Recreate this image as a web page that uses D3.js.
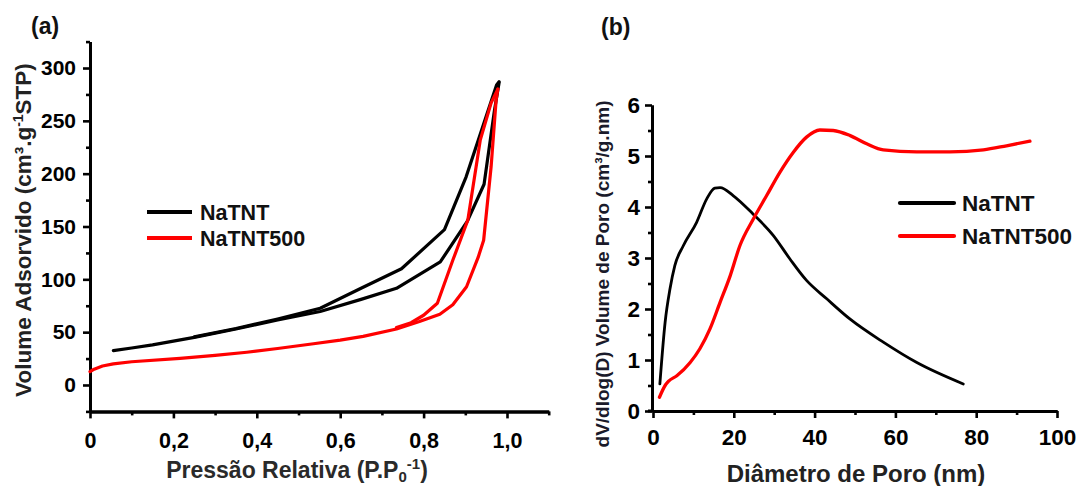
<!DOCTYPE html>
<html>
<head>
<meta charset="utf-8">
<script src="https://cdn.jsdelivr.net/npm/d3@7"></script>
<style>
  html, body { margin: 0; padding: 0; background: #fff; }
  svg { display: block; font-family: "Liberation Sans", Arial, sans-serif; font-weight: bold; }
</style>
</head>
<body>
<svg id="chart" width="1080" height="486"></svg>
<script>
// ---------- Panel (a): N2 isotherms ----------
const seriesNamesA = ["NaTNT", "NaTNT500"];
const xTicksA = [0, 0.2, 0.4, 0.6, 0.8, 1.0];
const xTickLabelsA = ["0", "0,2", "0,4", "0,6", "0,8", "1,0"];
const xMinorA = [0.1, 0.3, 0.5, 0.7, 0.9, 1.1];
const yTicksA = [0, 50, 100, 150, 200, 250, 300];
const yMinorA = [-25, 25, 75, 125, 175, 225, 275, 325];

// NaTNT adsorption (lower) and desorption (upper) branches: [P/P0, volume]
const natntAds = [[0.056,32.5],[0.10,35],[0.15,38],[0.25,45],[0.35,53],[0.45,61.5],[0.552,69.5],[0.65,81],[0.735,91.5],[0.84,116.5],[0.905,155],[0.945,190],[0.97,260],[0.981,286]];
const natntDes = [[0.981,287],[0.975,284],[0.902,197],[0.85,147],[0.747,110],[0.65,91.5],[0.552,72.6],[0.45,62.5],[0.35,53.5],[0.25,45.5]];
// NaTNT500 adsorption and desorption branches
const natnt500Ads = [[0,12.6],[0.01,15],[0.03,18],[0.056,20],[0.1,22],[0.216,25.2],[0.3,28],[0.376,31],[0.45,34.5],[0.536,39],[0.6,42.5],[0.655,46],[0.735,53],[0.79,60],[0.839,67],[0.87,76],[0.903,93],[0.931,121],[0.944,137],[0.962,207],[0.974,270],[0.978,280]];
const natnt500Des = [[0.978,280],[0.962,267],[0.936,232],[0.906,156],[0.87,118],[0.833,77.4],[0.80,66],[0.77,59],[0.735,54.5]];

// ---------- Panel (b): pore size distribution ----------
const seriesNamesB = ["NaTNT", "NaTNT500"];
const xTicksB = [0, 20, 40, 60, 80, 100];
const xMinorB = [10, 30, 50, 70, 90];
const yTicksB = [0, 1, 2, 3, 4, 5, 6];
const yMinorB = [0.5, 1.5, 2.5, 3.5, 4.5, 5.5];

const natntPSD = [[1.7,0.53],[3.0,1.74],[4.2,2.39],[5.4,2.85],[7.5,3.24],[10.8,3.70],[13.3,4.16],[15.3,4.37],[16.6,4.38],[19.9,4.22],[24.8,3.86],[29.8,3.44],[33.9,2.98],[38,2.56],[43,2.2],[48.8,1.80],[57,1.35],[65.3,0.95],[76.8,0.53]];
const natnt500PSD = [[1.6,0.27],[3.0,0.50],[3.8,0.58],[5.9,0.69],[9.2,0.95],[11.6,1.22],[14.1,1.61],[16.6,2.13],[19.1,2.65],[21.5,3.24],[24.8,3.76],[28.1,4.22],[31.4,4.68],[34.7,5.07],[38,5.37],[41.3,5.51],[44.6,5.50],[48.8,5.40],[52.9,5.24],[57,5.12],[65.3,5.08],[73.5,5.08],[81.8,5.12],[87.5,5.20],[93.3,5.29]];

const colors = ["#000000", "#ff0000"];

const svg = d3.select("#chart");

function styleAxis(g, fontSize) {
  g.select(".domain").attr("stroke", "#000").attr("stroke-width", 3);
  g.selectAll(".tick line").attr("stroke", "#000").attr("stroke-width", 2.6);
  g.selectAll(".tick text").attr("fill", "#000").style("font-size", fontSize + "px").style("font-weight", "bold")
    .style("font-family", '"Liberation Sans", Arial, sans-serif');
}

// ===== Panel (a) =====
const xA = d3.scaleLinear().domain([0, 1.1]).range([90, 548.7]);
const yA = d3.scaleLinear().domain([-25, 325]).range([411.4, 41.6]);

const gA = svg.append("g");
gA.append("g").attr("transform", `translate(0,${yA(-25)})`)
  .call(d3.axisBottom(xA).tickValues(xMinorA).tickSize(4).tickSizeOuter(0).tickFormat(""))
  .call(g => styleAxis(g, 21));
gA.append("g").attr("transform", `translate(0,${yA(-25)})`)
  .call(d3.axisBottom(xA).tickValues(xTicksA).tickSize(7).tickPadding(14).tickSizeOuter(0)
    .tickFormat((d, i) => xTickLabelsA[i]))
  .call(g => styleAxis(g, 21.5));
gA.append("g").attr("transform", `translate(${xA(0)},0)`)
  .call(d3.axisLeft(yA).tickValues(yMinorA).tickSize(4).tickSizeOuter(0).tickFormat(""))
  .call(g => styleAxis(g, 21));
gA.append("g").attr("transform", `translate(${xA(0)},0)`)
  .call(d3.axisLeft(yA).tickValues(yTicksA).tickSize(7).tickPadding(7).tickSizeOuter(0))
  .call(g => styleAxis(g, 21));

const lineA = d3.line().x(d => xA(d[0])).y(d => yA(d[1])).curve(d3.curveLinear);
[[natntAds, 0], [natntDes, 0], [natnt500Ads, 1], [natnt500Des, 1]].forEach(([data, ci]) => {
  gA.append("path").datum(data).attr("d", lineA)
    .attr("fill", "none").attr("stroke", colors[ci]).attr("stroke-width", 3.2)
    .attr("stroke-linejoin", "round").attr("stroke-linecap", "round");
});

// legend (a)
seriesNamesA.forEach((name, i) => {
  const y = 212 + i * 26;
  gA.append("line").attr("x1", 147).attr("x2", 192).attr("y1", y).attr("y2", y)
    .attr("stroke", colors[i]).attr("stroke-width", 4.2);
  gA.append("text").attr("x", 200).attr("y", y + 8).text(name)
    .style("font-size", "21.5px").attr("fill", "#111");
});

// titles (a)
gA.append("text").attr("x", 31).attr("y", 34).text("(a)").style("font-size", "23px").attr("fill", "#111");
const xlabA = gA.append("text").attr("x", 297).attr("y", 478).attr("text-anchor", "middle")
  .style("font-size", "23px").attr("fill", "#2a2a2a");
xlabA.append("tspan").text("Pressão Relativa (P.P");
xlabA.append("tspan").text("0").style("font-size", "15px").attr("dy", 4);
xlabA.append("tspan").text("-1").style("font-size", "15px").attr("dy", -13);
xlabA.append("tspan").text(")").attr("dy", 9);

const ylabA = gA.append("text").attr("transform", "translate(31,230) rotate(-90)").attr("text-anchor", "middle")
  .style("font-size", "22.5px").attr("fill", "#222");
ylabA.append("tspan").text("Volume Adsorvido (cm³.g");
ylabA.append("tspan").text("-1").style("font-size", "14px").attr("dy", -8);
ylabA.append("tspan").text("STP)").attr("dy", 8);

// ===== Panel (b) =====
const xB = d3.scaleLinear().domain([0, 100]).range([653, 1057]);
const yB = d3.scaleLinear().domain([0, 6]).range([411, 105]);

const gB = svg.append("g");
gB.append("line").attr("x1", 648).attr("x2", 653).attr("y1", yB(0)).attr("y2", yB(0))
  .attr("stroke", "#000").attr("stroke-width", 3);
gB.append("g").attr("transform", `translate(0,${yB(0)})`)
  .call(d3.axisBottom(xB).tickValues(xMinorB).tickSize(4).tickSizeOuter(0).tickFormat(""))
  .call(g => styleAxis(g, 22));
gB.append("g").attr("transform", `translate(0,${yB(0)})`)
  .call(d3.axisBottom(xB).tickValues(xTicksB).tickSize(7).tickPadding(11).tickSizeOuter(0).tickFormat(d3.format("d")))
  .call(g => styleAxis(g, 22.5));
gB.append("g").attr("transform", `translate(${xB(0) - 1},0)`)
  .call(d3.axisLeft(yB).tickValues(yMinorB).tickSize(4).tickSizeOuter(0).tickFormat(""))
  .call(g => styleAxis(g, 22));
gB.append("g").attr("transform", `translate(${xB(0) - 1},0)`)
  .call(d3.axisLeft(yB).tickValues(yTicksB).tickSize(7).tickPadding(5).tickSizeOuter(0).tickFormat(d3.format("d")))
  .call(g => styleAxis(g, 22.5));

const lineB = d3.line().x(d => xB(d[0])).y(d => yB(d[1])).curve(d3.curveMonotoneX);
gB.append("path").datum(natntPSD).attr("d", lineB).attr("fill", "none")
  .attr("stroke", colors[0]).attr("stroke-width", 2.8).attr("stroke-linecap", "round");
gB.append("path").datum(natnt500PSD).attr("d", lineB).attr("fill", "none")
  .attr("stroke", colors[1]).attr("stroke-width", 3.3).attr("stroke-linecap", "round");

// legend (b)
seriesNamesB.forEach((name, i) => {
  const y = 203 + i * 33;
  gB.append("line").attr("x1", 900).attr("x2", 954).attr("y1", y).attr("y2", y)
    .attr("stroke", colors[i]).attr("stroke-width", 4.2).attr("stroke-linecap", "round");
  gB.append("text").attr("x", 962).attr("y", y + 8).text(name)
    .style("font-size", "22.5px").attr("fill", "#111");
});

// titles (b)
gB.append("text").attr("x", 601).attr("y", 35).text("(b)").style("font-size", "23px").attr("fill", "#111");
gB.append("text").attr("x", 856).attr("y", 482).attr("text-anchor", "middle")
  .style("font-size", "24px").attr("fill", "#222").text("Diâmetro de Poro (nm)");
gB.append("text").attr("transform", "translate(609,274) rotate(-90)").attr("text-anchor", "middle")
  .style("font-size", "19px").attr("fill", "#1a1a2a").text("dV/dlog(D) Volume de Poro (cm³/g.nm)");
</script>
</body>
</html>
